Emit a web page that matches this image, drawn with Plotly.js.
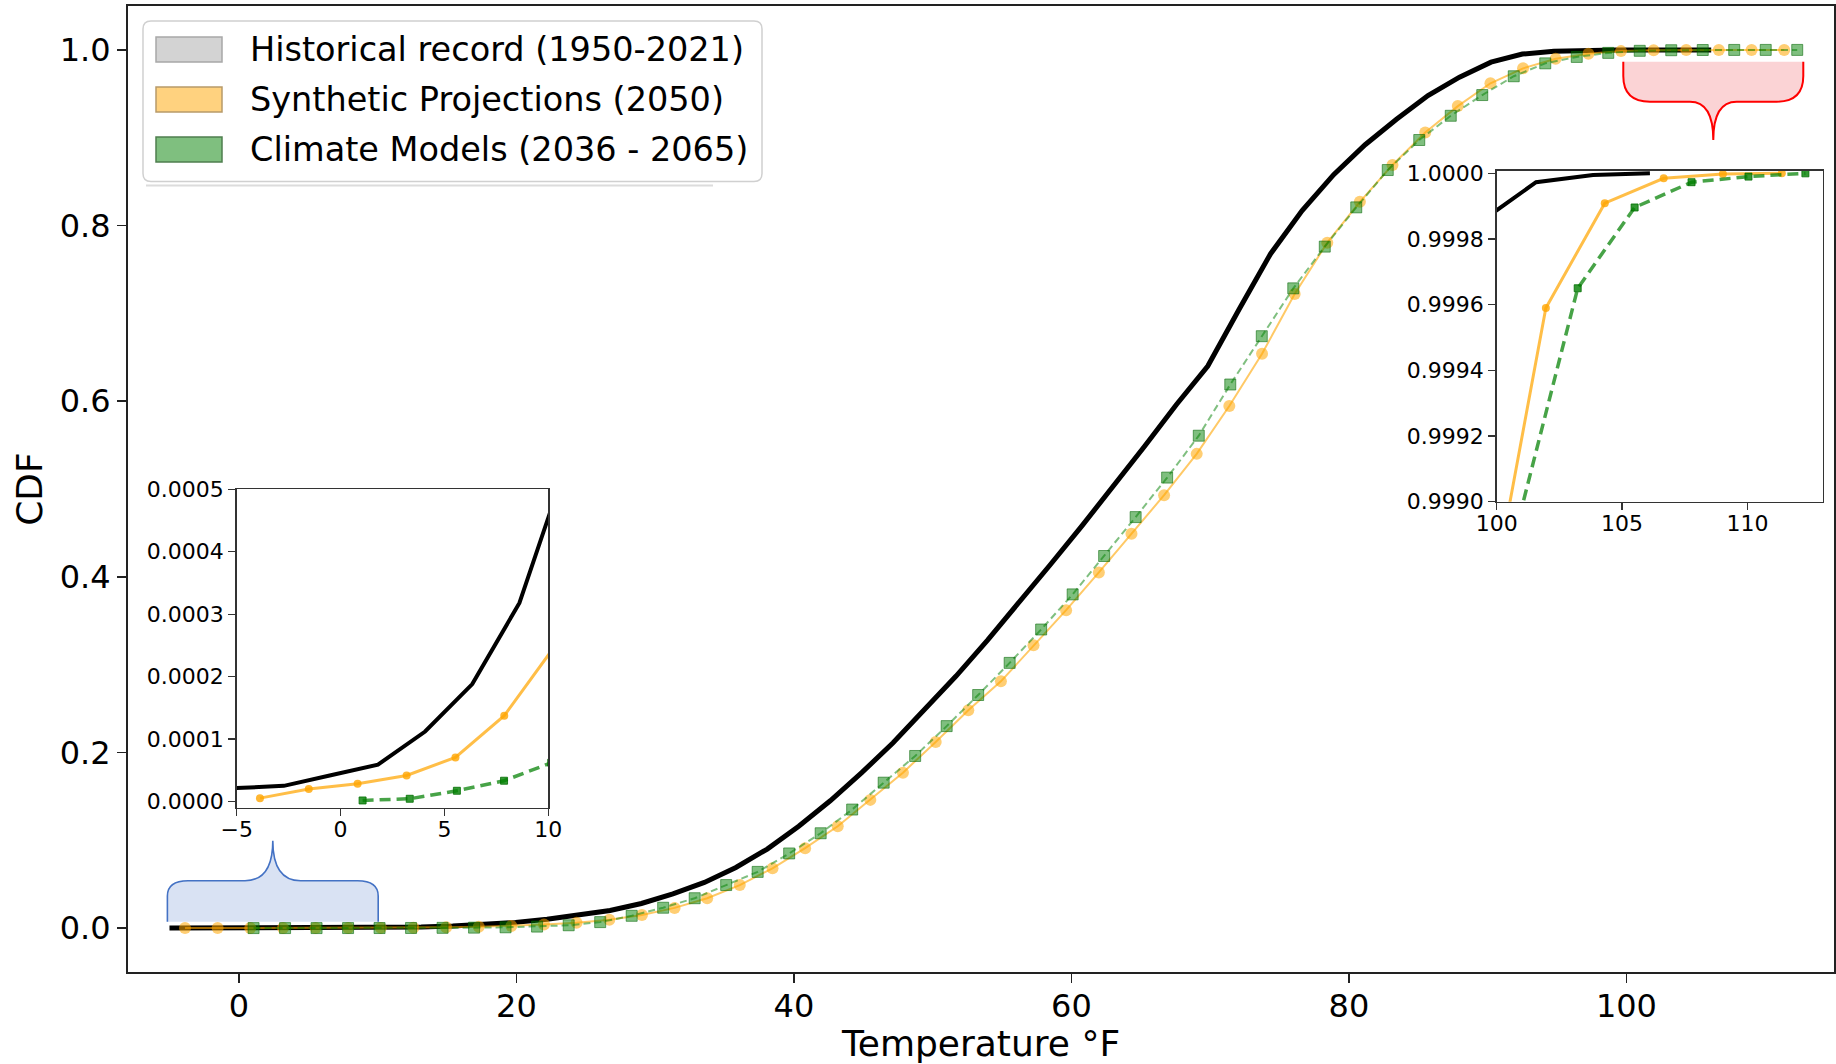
<!DOCTYPE html>
<html>
<head>
<meta charset="utf-8">
<script src="https://cdn.plot.ly/plotly-3.0.1.min.js"></script>
<style>
html, body { margin: 0; padding: 0; background: #ffffff; }
#chart { width: 1836px; height: 1064px; }
</style>
</head>
<body>
<div id="chart"></div>
<script>
// ---------------- data ----------------
const histTemp = [-5.00, -2.73, -0.47, 1.80, 4.07, 6.34, 8.61, 10.87, 13.14, 15.41,
  17.68, 19.94, 22.21, 24.48, 26.75, 29.01, 31.28, 33.55, 35.82, 38.08,
  40.35, 42.62, 44.89, 47.15, 49.42, 51.69, 53.96, 56.22, 58.49, 60.76,
  63.03, 65.29, 67.56, 69.83, 72.10, 74.36, 76.63, 78.90, 81.17, 83.43,
  85.70, 87.97, 90.24, 92.50, 94.77, 97.04, 99.31, 101.57, 103.84, 106.11];
const histCdf = [0.0000214, 0.0000250, 0.0000420, 0.0000590, 0.000112, 0.000188, 0.000318, 0.00054, 0.0012, 0.0023,
  0.0040, 0.0065, 0.0100, 0.0145, 0.0200, 0.0280, 0.0390, 0.0520, 0.0690, 0.0900,
  0.1160, 0.1450, 0.1770, 0.2110, 0.2480, 0.2870, 0.3280, 0.3700, 0.4140, 0.4580,
  0.5030, 0.5490, 0.5960, 0.6400, 0.7050, 0.7680, 0.8170, 0.8580, 0.8920, 0.9210,
  0.9480, 0.9690, 0.9860, 0.9953, 0.9985, 0.99955, 0.99985, 0.999973, 0.999995, 1.0];

const synthTemp = [-3.88, -1.53, 0.82, 3.18, 5.53, 7.88, 10.23, 12.58, 14.94, 17.29,
  19.64, 21.99, 24.34, 26.70, 29.05, 31.40, 33.75, 36.10, 38.46, 40.81,
  43.16, 45.51, 47.86, 50.22, 52.57, 54.92, 57.27, 59.62, 61.98, 64.33,
  66.68, 69.03, 71.38, 73.74, 76.09, 78.44, 80.79, 83.14, 85.50, 87.85,
  90.20, 92.55, 94.90, 97.26, 99.61, 101.96, 104.31, 106.66, 109.02, 111.37];
const synthCdf = [0.0000053, 0.0000198, 0.0000283, 0.0000417, 0.0000706, 0.0001374, 0.000245, 0.0005, 0.0009, 0.0015,
  0.0025, 0.0040, 0.0062, 0.0095, 0.0150, 0.0230, 0.0340, 0.0490, 0.0680, 0.0910,
  0.1160, 0.1460, 0.1770, 0.2120, 0.2480, 0.2810, 0.3220, 0.3620, 0.4050, 0.4490,
  0.4930, 0.5400, 0.5945, 0.6540, 0.7220, 0.7805, 0.8270, 0.8690, 0.9060, 0.9360,
  0.9620, 0.9790, 0.9900, 0.9957, 0.99862, 0.99959, 0.999909, 0.999985, 0.999998, 1.0];

const modelTemp = [1.06, 3.33, 5.60, 7.87, 10.14, 12.41, 14.68, 16.95, 19.22, 21.49,
  23.77, 26.04, 28.31, 30.58, 32.85, 35.12, 37.39, 39.66, 41.93, 44.20,
  46.47, 48.74, 51.01, 53.28, 55.55, 57.82, 60.09, 62.36, 64.63, 66.90,
  69.18, 71.45, 73.72, 75.99, 78.26, 80.53, 82.80, 85.07, 87.34, 89.61,
  91.88, 94.15, 96.42, 98.69, 100.96, 103.23, 105.50, 107.77, 110.04, 112.31];
const modelCdf = [0.0000016, 0.0000043, 0.0000171, 0.0000332, 0.000062, 0.00014, 0.00028, 0.0005, 0.0009, 0.0017,
  0.0032, 0.0068, 0.0140, 0.0232, 0.0340, 0.0490, 0.0640, 0.0850, 0.1080, 0.1350,
  0.1656, 0.1960, 0.2300, 0.2654, 0.3020, 0.3400, 0.3800, 0.4237, 0.4680, 0.5130,
  0.5607, 0.6190, 0.6740, 0.7285, 0.7760, 0.8207, 0.8632, 0.8974, 0.9250, 0.9486,
  0.9700, 0.9847, 0.9920, 0.9966, 0.99897, 0.99965, 0.999896, 0.999973, 0.99999, 1.0];

const seriesNames = ['Historical record (1950-2021)', 'Synthetic Projections (2050)', 'Climate Models (2036 - 2065)'];
const xTicksMain = [0, 20, 40, 60, 80, 100];
const yTicksMain = [0.0, 0.2, 0.4, 0.6, 0.8, 1.0];
const xTicksLow = [-5, 0, 5, 10];
const yTicksLow = [0.0000, 0.0001, 0.0002, 0.0003, 0.0004, 0.0005];
const xTicksHigh = [100, 105, 110];
const yTicksHigh = [0.9990, 0.9992, 0.9994, 0.9996, 0.9998, 1.0000];

// ---------------- geometry helpers (pixel -> paper) ----------------
const W = 1836, H = 1064;
const M = { l: 128, r: 2, t: 6, b: 92 };
const PW = W - M.l - M.r, PH = H - M.t - M.b;
const px2x = px => (px - M.l) / PW;
const px2y = py => (H - M.b - py) / PH;
const P = (px, py) => px2x(px).toFixed(5) + ',' + px2y(py).toFixed(5);

const FONT = 'DejaVu Sans';
const ORANGE_MAIN = 'rgba(255,165,0,0.6)';
const GREEN_MAIN = 'rgba(0,128,0,0.5)';

// ---------------- traces ----------------
function seriesTraces(xa, ya, inset) {
  return [
    { x: histTemp, y: histCdf, xaxis: xa, yaxis: ya, type: 'scatter', mode: 'lines',
      name: seriesNames[0], showlegend: false, hoverinfo: 'skip',
      line: { color: '#000000', width: inset ? 4 : 5 } },
    { x: synthTemp, y: synthCdf, xaxis: xa, yaxis: ya, type: 'scatter', mode: 'lines+markers',
      name: seriesNames[1], showlegend: false, hoverinfo: 'skip',
      line: { color: inset ? 'rgba(255,165,0,0.72)' : ORANGE_MAIN, width: inset ? 3 : 2 },
      marker: { symbol: 'circle', size: inset ? 8 : 12,
        color: inset ? 'rgba(255,165,0,0.8)' : 'rgba(255,165,0,0.55)', line: { width: 0 } } },
    { x: modelTemp, y: modelCdf, xaxis: xa, yaxis: ya, type: 'scatter', mode: 'lines+markers',
      name: seriesNames[2], showlegend: false, hoverinfo: 'skip',
      line: { color: inset ? 'rgba(0,128,0,0.72)' : GREEN_MAIN, width: inset ? 3.5 : 2,
        dash: inset ? '11px,6px' : '7px,4px' },
      marker: { symbol: 'square', size: inset ? 7 : 11,
        color: inset ? 'rgba(0,128,0,0.8)' : 'rgba(0,128,0,0.5)',
        line: { color: inset ? 'rgba(0,110,0,0.8)' : 'rgba(0,100,0,0.55)', width: 1 } } }
  ];
}
const data = [].concat(seriesTraces('x', 'y', false), seriesTraces('x2', 'y2', true), seriesTraces('x3', 'y3', true));

// ---------------- axes ----------------
const axisCommon = {
  showgrid: false, zeroline: false, showline: true, mirror: true,
  ticks: 'outside', automargin: false, color: '#000000'
};
const insetAxis = {
  linecolor: '#333333', linewidth: 1.5, ticklen: 7, tickwidth: 1.3, tickcolor: '#333333',
  tickfont: { family: FONT, size: 22 }
};
const layout = {
  width: W, height: H,
  margin: { l: M.l, r: M.r, t: M.t, b: M.b, pad: 0 },
  paper_bgcolor: '#ffffff', plot_bgcolor: '#ffffff',
  font: { family: FONT, color: '#000000' },
  showlegend: false,
  xaxis: Object.assign({}, axisCommon, {
    domain: [0, 1], range: [-7.99, 114.96], tickvals: xTicksMain,
    linecolor: '#222222', linewidth: 2, ticklen: 9, tickwidth: 1.5, tickcolor: '#222222',
    tickfont: { family: FONT, size: 32 }, ticklabelstandoff: -4,
    title: { text: 'Temperature °F', font: { family: FONT, size: 36 }, standoff: 13 }
  }),
  yaxis: Object.assign({}, axisCommon, {
    domain: [0, 1], range: [-0.05, 1.05], tickvals: yTicksMain, tickformat: '.1f',
    linecolor: '#222222', linewidth: 2, ticklen: 9, tickwidth: 1.5, tickcolor: '#222222',
    tickfont: { family: FONT, size: 32 },
    title: { text: 'CDF', font: { family: FONT, size: 36 }, standoff: 6 }
  }),
  xaxis2: Object.assign({}, axisCommon, insetAxis, {
    domain: [px2x(236.7), px2x(548.3)], anchor: 'y2', range: [-5, 10], tickvals: xTicksLow,
    ticklabelstandoff: -6
  }),
  yaxis2: Object.assign({}, axisCommon, insetAxis, {
    domain: [px2y(807.7), px2y(489.3)], anchor: 'x2', range: [-0.00001, 0.0005], tickvals: yTicksLow,
    tickformat: '.4f'
  }),
  xaxis3: Object.assign({}, axisCommon, insetAxis, {
    domain: [px2x(1496.7), px2x(1822.7)], anchor: 'y3', range: [100, 113], tickvals: xTicksHigh,
    ticklabelstandoff: -6
  }),
  yaxis3: Object.assign({}, axisCommon, insetAxis, {
    domain: [px2y(501.7), px2y(170.7)], anchor: 'x3', range: [0.999, 1.000008], tickvals: yTicksHigh,
    tickformat: '.4f'
  }),
  shapes: [],
  annotations: []
};

// inset white backgrounds (under inset traces, over main traces)
layout.shapes.push({ type: 'rect', xref: 'x2 domain', yref: 'y2 domain', x0: 0, x1: 1, y0: 0, y1: 1,
  fillcolor: '#ffffff', line: { width: 0 }, layer: 'below' });
layout.shapes.push({ type: 'rect', xref: 'x3 domain', yref: 'y3 domain', x0: 0, x1: 1, y0: 0, y1: 1,
  fillcolor: '#ffffff', line: { width: 0 }, layer: 'below' });

// braces (callouts) - pixel defined, converted to paper
function bracePath(pts, close) {
  let s = 'M ' + P(pts[0][0], pts[0][1]);
  for (let i = 1; i < pts.length; i++) {
    const p = pts[i];
    if (p.length === 4) s += ' Q ' + P(p[0], p[1]) + ' ' + P(p[2], p[3]);
    else s += ' L ' + P(p[0], p[1]);
  }
  return s + (close ? ' Z' : '');
}
const blueBrace = [[167.4, 921.7], [167.4, 896], [167.4, 880.7, 188, 880.7], [245, 880.7],
  [272.8, 880.7, 272.8, 840.7], [272.8, 880.7, 300.6, 880.7], [357.6, 880.7],
  [378.2, 880.7, 378.2, 896], [378.2, 921.7]];
const redBrace = [[1623.3, 61.7], [1623.3, 76], [1623.3, 101.7, 1650, 101.7], [1690, 101.7],
  [1713.3, 101.7, 1713.3, 140], [1713.3, 101.7, 1736.6, 101.7], [1776.6, 101.7],
  [1803.3, 101.7, 1803.3, 76], [1803.3, 61.7]];
layout.shapes.push({ type: 'path', xref: 'paper', yref: 'paper', path: bracePath(blueBrace, true),
  fillcolor: '#D9E2F3', line: { width: 0 }, layer: 'below' });
layout.shapes.push({ type: 'path', xref: 'paper', yref: 'paper', path: bracePath(blueBrace, false),
  fillcolor: 'rgba(0,0,0,0)', line: { color: '#4472C4', width: 1.6 }, layer: 'below' });
layout.shapes.push({ type: 'path', xref: 'paper', yref: 'paper', path: bracePath(redBrace, true),
  fillcolor: '#FBD3D5', line: { width: 0 }, layer: 'below' });
layout.shapes.push({ type: 'path', xref: 'paper', yref: 'paper', path: bracePath(redBrace, false),
  fillcolor: 'rgba(0,0,0,0)', line: { color: '#FF0000', width: 2 }, layer: 'below' });

// ---------------- legend (drawn) ----------------
const LG = { L: 143, T: 21, R: 762, B: 181.5, r: 8 };
const legendBox = 'M ' + P(LG.L + LG.r, LG.T) + ' L ' + P(LG.R - LG.r, LG.T) +
  ' Q ' + P(LG.R, LG.T) + ' ' + P(LG.R, LG.T + LG.r) + ' L ' + P(LG.R, LG.B - LG.r) +
  ' Q ' + P(LG.R, LG.B) + ' ' + P(LG.R - LG.r, LG.B) + ' L ' + P(LG.L + LG.r, LG.B) +
  ' Q ' + P(LG.L, LG.B) + ' ' + P(LG.L, LG.B - LG.r) + ' L ' + P(LG.L, LG.T + LG.r) +
  ' Q ' + P(LG.L, LG.T) + ' ' + P(LG.L + LG.r, LG.T) + ' Z';
layout.shapes.push({ type: 'line', xref: 'paper', yref: 'paper', x0: px2x(146), x1: px2x(713),
  y0: px2y(185.5), y1: px2y(185.5), line: { color: '#dcdcdc', width: 2 }, layer: 'above' });
layout.shapes.push({ type: 'path', xref: 'paper', yref: 'paper', path: legendBox,
  fillcolor: 'rgba(255,255,255,0.85)', line: { color: '#d0d0d0', width: 1.5 }, layer: 'above' });
const patchFill = ['#D3D3D3', '#FFD27F', '#7FBF7F'];
const patchEdge = ['#a8a8a8', '#b89a6a', '#4f7f4f'];
const rowY = [49.5, 99.5, 149.5];
for (let i = 0; i < 3; i++) {
  layout.shapes.push({ type: 'rect', xref: 'paper', yref: 'paper',
    x0: px2x(156), x1: px2x(222), y0: px2y(rowY[i] + 12.5), y1: px2y(rowY[i] - 12.5),
    fillcolor: patchFill[i], line: { color: patchEdge[i], width: 1.5 }, layer: 'above' });
  layout.annotations.push({ xref: 'paper', yref: 'paper', x: px2x(248), y: px2y(rowY[i]),
    xanchor: 'left', yanchor: 'middle', showarrow: false, text: seriesNames[i],
    font: { family: FONT, size: 33.5, color: '#000000' } });
}

Plotly.newPlot('chart', data, layout, { staticPlot: true, displayModeBar: false });
</script>
</body>
</html>
